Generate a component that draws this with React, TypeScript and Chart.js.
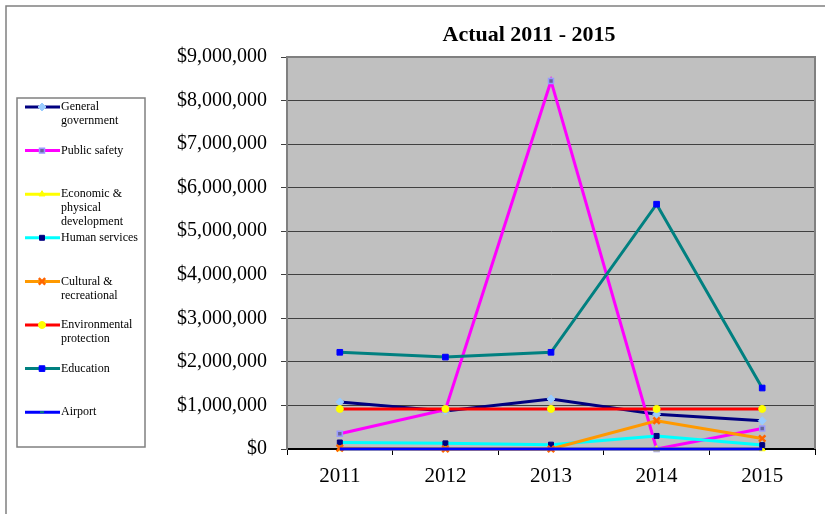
import React, { useEffect, useRef } from 'react';
import { Chart, registerables } from 'chart.js';
import { drawPoint } from 'chart.js/helpers';

Chart.register(...registerables);

const years = ['2011', '2012', '2013', '2014', '2015'];
const generalGovernment = [1080000, 870000, 1150000, 800000, 650000];
const publicSafety = [350000, 900000, 8450000, 0, 470000];
const economicDevelopment = [0, 0, 0, 0, 0];
const humanServices = [150000, 130000, 100000, 300000, 90000];
const culturalRecreational = [20000, 0, 0, 650000, 240000];
const environmentalProtection = [920000, 920000, 920000, 920000, 920000];
const education = [2220000, 2110000, 2220000, 5620000, 1400000];
const airport = [0, 0, 0, 0, 0];

const seriesNames = [
  ['General', 'government'],
  ['Public safety'],
  ['Economic &', 'physical', 'development'],
  ['Human services'],
  ['Cultural &', 'recreational'],
  ['Environmental', 'protection'],
  ['Education'],
  ['Airport'],
];
const yTicks = [0, 1000000, 2000000, 3000000, 4000000, 5000000, 6000000, 7000000, 8000000, 9000000];
const chartTitle = 'Actual 2011 - 2015';

const SERIF = "'Liberation Serif', 'Times New Roman', serif";

const styles = [
  { line: '#000080', style: 'rectRot', bg: '#99ccff', bd: '#99ccff', r: 4, bw: 1 },
  { line: '#ff00ff', style: 'rect', bg: '#666699', bd: '#9999ff', r: 3.5, bw: 1.5 },
  { line: '#ffff00', style: 'triangle', bg: '#ffff00', bd: '#ffff00', r: 3.5, bw: 1 },
  { line: '#00ffff', style: 'rect', bg: '#000080', bd: '#000080', r: 3.5, bw: 1 },
  { line: '#ff9900', style: 'crossRot', bg: '#ff9900', bd: '#ff6600', r: 4.5, bw: 2.5 },
  { line: '#ff0000', style: 'circle', bg: '#ffff00', bd: '#ffff00', r: 3.5, bw: 1 },
  { line: '#008080', style: 'rect', bg: '#0000ff', bd: '#0000ff', r: 4, bw: 1 },
  { line: '#0000ff', style: 'circle', bg: '#008080', bd: '#008080', r: 0, bw: 1 },
];

const seriesData = [
  generalGovernment,
  publicSafety,
  economicDevelopment,
  humanServices,
  culturalRecreational,
  environmentalProtection,
  education,
  airport,
];

const decorPlugin = {
  id: 'decor',
  beforeDraw(chart: any) {
    const { ctx, chartArea } = chart;
    ctx.save();
    ctx.fillStyle = '#ffffff';
    ctx.fillRect(0, 0, chart.width, chart.height);
    ctx.strokeStyle = '#808080';
    ctx.lineWidth = 1.5;
    ctx.beginPath();
    ctx.moveTo(6, chart.height);
    ctx.lineTo(6, 6);
    ctx.lineTo(chart.width, 6);
    ctx.stroke();
    ctx.fillStyle = '#c0c0c0';
    ctx.fillRect(chartArea.left, chartArea.top, chartArea.right - chartArea.left, chartArea.bottom - chartArea.top);
    ctx.restore();
  },
  beforeDatasetsDraw(chart: any) {
    const { ctx, chartArea } = chart;
    ctx.save();
    ctx.strokeStyle = '#808080';
    ctx.lineWidth = 2;
    ctx.beginPath();
    ctx.moveTo(chartArea.left, chartArea.bottom);
    ctx.lineTo(chartArea.left, chartArea.top);
    ctx.lineTo(chartArea.right, chartArea.top);
    ctx.lineTo(chartArea.right, chartArea.bottom);
    ctx.stroke();
    ctx.restore();
  },
  afterDraw(chart: any) {
    const { ctx } = chart;
    ctx.save();
    ctx.fillStyle = '#000';
    ctx.font = `bold 22px ${SERIF}`;
    ctx.textAlign = 'center';
    ctx.textBaseline = 'middle';
    ctx.fillText(chartTitle, 529, 35);
    ctx.strokeStyle = '#808080';
    ctx.lineWidth = 1.5;
    ctx.strokeRect(17, 98, 128, 349);
    ctx.font = `12px ${SERIF}`;
    ctx.textAlign = 'left';
    seriesNames.forEach((lines, i) => {
      const s = styles[i];
      const y = 107 + i * 43.6;
      ctx.strokeStyle = s.line;
      ctx.lineWidth = 3;
      ctx.beginPath();
      ctx.moveTo(25, y);
      ctx.lineTo(60, y);
      ctx.stroke();
      if (s.r > 0) {
        ctx.fillStyle = s.bg;
        ctx.strokeStyle = s.bd;
        ctx.lineWidth = s.bw;
        drawPoint(ctx, { pointStyle: s.style as any, radius: s.r, rotation: 0, borderWidth: s.bw }, 42, y);
      } else {
        ctx.fillStyle = s.bg;
        ctx.fillRect(40, y - 1, 4, 2);
      }
      ctx.fillStyle = '#000';
      lines.forEach((t, k) => ctx.fillText(t, 61, y + k * 14));
    });
    ctx.restore();
  },
};

export default function App() {
  const ref = useRef<HTMLCanvasElement | null>(null);
  useEffect(() => {
    if (!ref.current) return;
    const chart = new Chart(ref.current, {
      type: 'line',
      data: {
        labels: years,
        datasets: seriesData.map((d, i) => ({
          label: seriesNames[i].join(' '),
          data: d,
          borderColor: styles[i].line,
          backgroundColor: styles[i].line,
          borderWidth: 3,
          pointStyle: styles[i].style as any,
          pointRadius: styles[i].r,
          pointBackgroundColor: styles[i].bg,
          pointBorderColor: styles[i].bd,
          pointBorderWidth: styles[i].bw,
          tension: 0,
          order: 7 - i,
          clip: false as any,
        })),
      },
      options: {
        responsive: false,
        animation: false,
        devicePixelRatio: 1,
        layout: { padding: { left: 0, right: 10, top: 57, bottom: 0 } },
        plugins: {
          legend: { display: false },
          title: { display: false },
          tooltip: { enabled: false },
        },
        scales: {
          x: {
            offset: true,
            grid: { offset: true, drawOnChartArea: false, drawTicks: true, tickLength: 6, color: '#000' },
            border: { color: '#000', width: 2 },
            ticks: { color: '#000', font: { family: SERIF, size: 21 }, padding: 9 },
            afterFit: (s: any) => { s.height = 65; },
          },
          y: {
            min: 0,
            max: 9000000,
            afterBuildTicks: (s: any) => { s.ticks = yTicks.map((v) => ({ value: v })); },
            grid: { color: '#404040', lineWidth: 1, drawTicks: true, tickLength: 6 },
            border: { color: '#808080', width: 2 },
            ticks: {
              color: '#000',
              font: { family: SERIF, size: 20 },
              padding: 14,
              callback: (v: any) => '$' + Number(v).toLocaleString('en-US'),
            },
            afterFit: (s: any) => { s.width = 287; },
          },
        },
      },
      plugins: [decorPlugin],
    });
    return () => chart.destroy();
  }, []);
  return (
    <div style={{ position: 'absolute', left: 0, top: 0, width: 825, height: 514 }}>
      <canvas ref={ref} width={825} height={514} style={{ width: 825, height: 514, display: 'block' }} />
    </div>
  );
}
